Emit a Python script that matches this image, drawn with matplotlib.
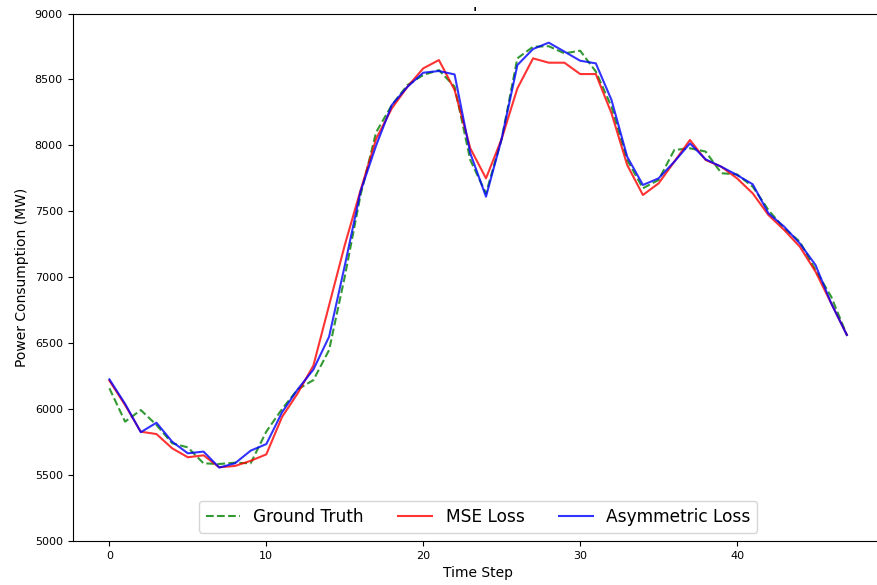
import numpy as np
import matplotlib
matplotlib.use('Agg')
import matplotlib.pyplot as plt

steps = np.arange(48)

ground_truth = [6158, 5905, 5993, 5880, 5741, 5710, 5589, 5584, 5594, 5589,
                5830, 6000, 6150, 6220, 6448, 7004, 7620, 8100, 8306, 8458,
                8534, 8571, 8445, 7889, 7636, 8050, 8660, 8748, 8752, 8698,
                8718, 8560, 8293, 7889, 7675, 7738, 7965, 7978, 7953, 7789,
                7780, 7687, 7510, 7371, 7270, 7055, 6853, 6562]

mse_loss = [6216, 6031, 5829, 5811, 5703, 5635, 5650, 5559, 5569, 5608,
            5657, 5940, 6120, 6330, 6787, 7244, 7657, 8050, 8281, 8445,
            8584, 8647, 8420, 7978, 7750, 8050, 8432, 8660, 8627, 8627,
            8541, 8541, 8243, 7851, 7624, 7712, 7876, 8041, 7889, 7838,
            7750, 7636, 7472, 7359, 7232, 7043, 6803, 6562]

asym_loss = [6226, 6040, 5825, 5897, 5753, 5665, 5678, 5557, 5589, 5685,
             5735, 5975, 6150, 6300, 6549, 7088, 7649, 8000, 8306, 8445,
             8551, 8564, 8538, 7940, 7611, 8050, 8609, 8731, 8779, 8711,
             8642, 8622, 8344, 7914, 7700, 7750, 7876, 8015, 7894, 7838,
             7775, 7705, 7485, 7384, 7257, 7093, 6803, 6562]

fig = plt.figure(figsize=(8.77, 5.85), dpi=100)
# original is cropped on the right, the axes run past the edge
ax = fig.add_axes([0.0827, 0.0752, 0.925, 0.9017])
ax.spines['right'].set_visible(False)

ax.plot(steps, ground_truth, 'g--', alpha=0.8, lw=1.5, label='Ground Truth')
ax.plot(steps, mse_loss, 'r', alpha=0.8, lw=1.5, label='MSE Loss')
ax.plot(steps, asym_loss, 'b', alpha=0.8, lw=1.5, label='Asymmetric Loss')

ax.set_ylim(5000, 9000)
fig.text(0.541, 0.99, "'", ha='center', va='top', fontsize=10, fontweight='bold')
ax.set_xlabel('Time Step', fontsize=10)
ax.set_ylabel('Power Consumption (MW)', fontsize=10)
ax.tick_params(labelsize=8)
ax.legend(loc='lower center', ncol=3, fontsize=12.25)

fig.savefig('out.png', dpi=100)
